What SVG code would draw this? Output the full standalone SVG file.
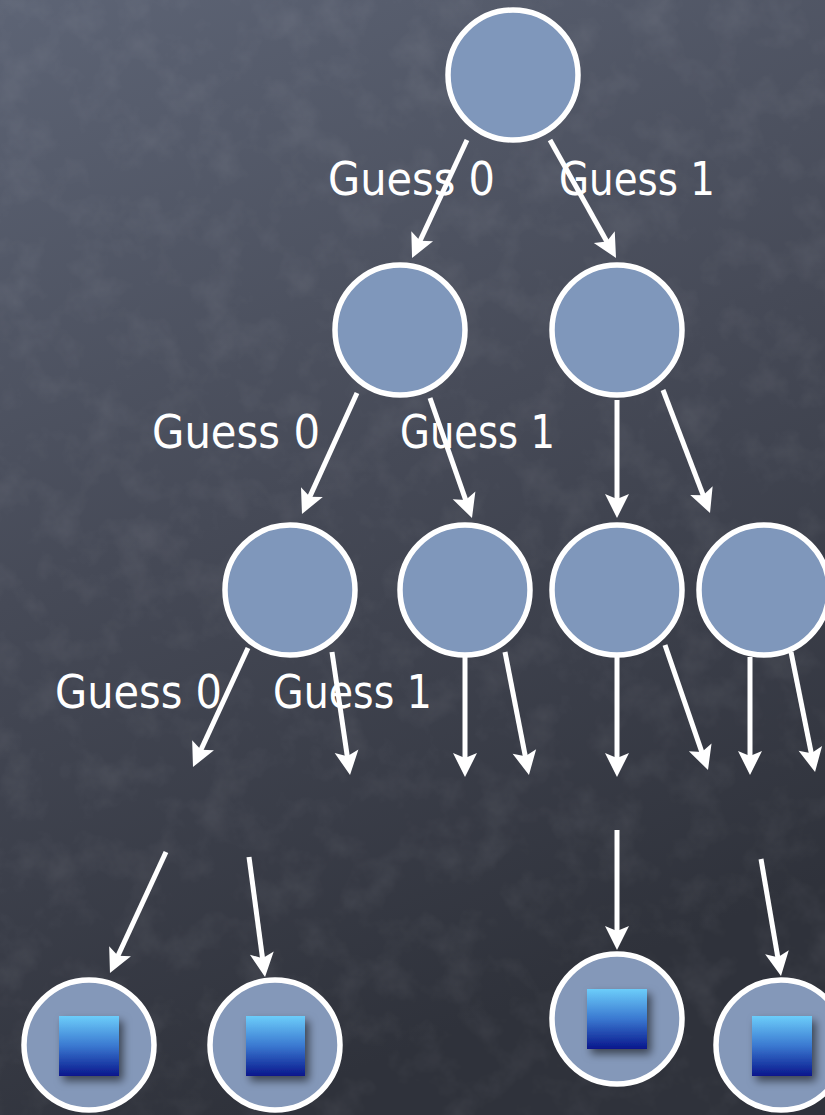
<svg xmlns="http://www.w3.org/2000/svg" width="825" height="1115" viewBox="0 0 825 1115">
  <defs>
    <linearGradient id="bg" x1="0" y1="0" x2="0.3" y2="1">
      <stop offset="0" stop-color="#5d6475"/>
      <stop offset="0.5" stop-color="#464a57"/>
      <stop offset="1" stop-color="#2f323b"/>
    </linearGradient>
    <linearGradient id="sq" x1="0" y1="0" x2="0" y2="1">
      <stop offset="0" stop-color="#6ccdfa"/>
      <stop offset="0.5" stop-color="#3a78d0"/>
      <stop offset="1" stop-color="#08168c"/>
    </linearGradient>
    <filter id="noise" x="0" y="0" width="100%" height="100%">
      <feTurbulence type="fractalNoise" baseFrequency="0.025" numOctaves="4" seed="7" result="t"/>
      <feColorMatrix type="matrix" values="0 0 0 0 1  0 0 0 0 1  0 0 0 0 1  0.45 0 0 0 -0.2"/>
    </filter>
    <filter id="shadow" x="-30%" y="-30%" width="170%" height="170%">
      <feDropShadow dx="4" dy="5" stdDeviation="4" flood-color="#000" flood-opacity="0.55"/>
    </filter>
    <marker id="ah" markerUnits="userSpaceOnUse" orient="auto" refX="0" refY="0" markerWidth="40" markerHeight="40" overflow="visible">
      <path d="M16,0 L-8,-12 L-3,0 L-8,12 Z" fill="#ffffff"/>
    </marker>
    <style>
      .node { fill: #7f97bb; stroke: #ffffff; stroke-width: 5.5; }
      .leaf { fill: #8498b9; stroke: #ffffff; stroke-width: 5.5; }
      .sq { fill: url(#sq); filter: url(#shadow); }
      .edge { stroke: #ffffff; stroke-width: 5; fill: none; marker-end: url(#ah); }
      .lbl { font-family: "DejaVu Sans", "Noto Sans", sans-serif; font-size: 46px; fill: #ffffff; }
    </style>
  </defs>

  <rect x="0" y="0" width="825" height="1115" fill="url(#bg)"/>
  <rect x="0" y="0" width="825" height="1115" filter="url(#noise)" opacity="0.3"/>

  <g id="connectors">
    <line class="edge" x1="467" y1="140" x2="418.8" y2="243.5"/>
    <line class="edge" x1="550" y1="140" x2="608.2" y2="244"/>
    <line class="edge" x1="357" y1="393" x2="308.6" y2="499.4"/>
    <line class="edge" x1="430" y1="398" x2="466.7" y2="502.9"/>
    <line class="edge" x1="617" y1="400" x2="617" y2="502"/>
    <line class="edge" x1="663" y1="390" x2="704.3" y2="498.1"/>
    <line class="edge" x1="248" y1="648" x2="199.7" y2="752.5"/>
    <line class="edge" x1="332" y1="652" x2="347.7" y2="759.2"/>
    <line class="edge" x1="465" y1="657" x2="465" y2="761"/>
    <line class="edge" x1="505" y1="652" x2="525.9" y2="759.3"/>
    <line class="edge" x1="617" y1="657" x2="617" y2="761"/>
    <line class="edge" x1="665" y1="645" x2="702.8" y2="754.9"/>
    <line class="edge" x1="750" y1="657" x2="750" y2="759"/>
    <line class="edge" x1="791" y1="652" x2="811.9" y2="756.3"/>
    <line class="edge" x1="166" y1="852" x2="116.7" y2="958.5"/>
    <line class="edge" x1="249" y1="857" x2="262.9" y2="961.1"/>
    <line class="edge" x1="617" y1="830" x2="617" y2="934"/>
    <line class="edge" x1="761" y1="859" x2="778.3" y2="960.2"/>
  </g>

  <g id="labels">
    <text class="lbl" x="328" y="195" textLength="167" lengthAdjust="spacingAndGlyphs">Guess 0</text>
    <text class="lbl" x="559" y="195" textLength="156" lengthAdjust="spacingAndGlyphs">Guess 1</text>
    <text class="lbl" x="152" y="448" textLength="168" lengthAdjust="spacingAndGlyphs">Guess 0</text>
    <text class="lbl" x="400" y="448" textLength="155" lengthAdjust="spacingAndGlyphs">Guess 1</text>
    <text class="lbl" x="55" y="708" textLength="167" lengthAdjust="spacingAndGlyphs">Guess 0</text>
    <text class="lbl" x="273" y="708" textLength="159" lengthAdjust="spacingAndGlyphs">Guess 1</text>
  </g>

  <g id="root"><circle class="node" cx="513" cy="75" r="65"/></g>
  <g id="n0"><circle class="node" cx="400" cy="330" r="65"/></g>
  <g id="n1"><circle class="node" cx="617" cy="330" r="65"/></g>
  <g id="n00"><circle class="node" cx="290" cy="590" r="65"/></g>
  <g id="n01"><circle class="node" cx="465" cy="590" r="65"/></g>
  <g id="n10"><circle class="node" cx="617" cy="590" r="65"/></g>
  <g id="n11"><circle class="node" cx="764" cy="590" r="65"/></g>

  <g id="leaf1"><circle class="leaf" cx="89" cy="1045" r="65"/><rect class="sq" x="59" y="1016" width="60" height="60"/></g>
  <g id="leaf2"><circle class="leaf" cx="275" cy="1045" r="65"/><rect class="sq" x="246" y="1016" width="59" height="60"/></g>
  <g id="leaf3"><circle class="leaf" cx="617" cy="1019" r="65"/><rect class="sq" x="587" y="989" width="60" height="60"/></g>
  <g id="leaf4"><circle class="leaf" cx="781" cy="1045" r="65"/><rect class="sq" x="752" y="1016" width="60" height="60"/></g>
</svg>
